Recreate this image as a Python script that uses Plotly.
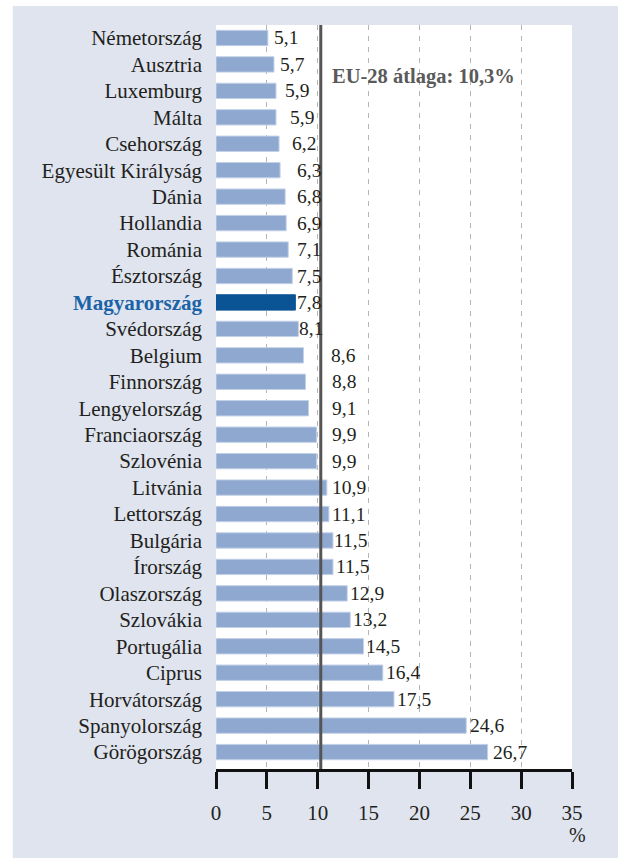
import plotly.graph_objects as go

# Data
countries = ["Németország", "Ausztria", "Luxemburg", "Málta", "Csehország",
             "Egyesült Királyság", "Dánia", "Hollandia", "Románia", "Észtország",
             "Magyarország", "Svédország", "Belgium", "Finnország", "Lengyelország",
             "Franciaország", "Szlovénia", "Litvánia", "Lettország", "Bulgária",
             "Írország", "Olaszország", "Szlovákia", "Portugália", "Ciprus",
             "Horvátország", "Spanyolország", "Görögország"]
values = [5.1, 5.7, 5.9, 5.9, 6.2, 6.3, 6.8, 6.9, 7.1, 7.5, 7.8, 8.1, 8.6, 8.8,
          9.1, 9.9, 9.9, 10.9, 11.1, 11.5, 11.5, 12.9, 13.2, 14.5, 16.4, 17.5,
          24.6, 26.7]
eu_average = 10.3
highlight = "Magyarország"
x_ticks = [0, 5, 10, 15, 20, 25, 30, 35]
grid_ticks = [5, 10, 15, 20, 25, 30]

# Styling
FONT = "Liberation Serif"
BAR = "#8ea8cf"
BAR_EDGE = "#c3d1e8"
HL_BAR = "#0a5394"
HL_TEXT = "#1b63a6"
BG = "#dfe4ef"
TEXT = "#231f20"
# pixel nudges for the value labels (rows near the average line are moved aside)
label_nudge = [4, 4, 7, 12, 11, 15, 10, 9, 7, 3, 0, -1, 26, 24, 21, 13, 13, 3, 1,
               -1, 1, 1, 1, 1, 1, 1, 2, 3]

idx = list(range(len(countries)))
colors = [HL_BAR if c == highlight else BAR for c in countries]
edges = [HL_BAR if c == highlight else BAR_EDGE for c in countries]
ticktext = [f"<b><span style='color:{HL_TEXT}'>{c}</span></b>" if c == highlight else c
            for c in countries]

fig = go.Figure()
fig.add_trace(go.Bar(
    x=values, y=idx, orientation="h", width=0.58,
    marker=dict(color=colors, line=dict(color=edges, width=1)),
    hoverinfo="skip", showlegend=False,
))
# invisible trace to carry the dashed grid axis
fig.add_trace(go.Scatter(x=[0, 35], y=[0, 0], xaxis="x2", mode="markers",
                         marker=dict(opacity=0), hoverinfo="skip", showlegend=False))

annotations = []
for i, (v, n) in enumerate(zip(values, label_nudge)):
    annotations.append(dict(x=v, y=i, xref="x", yref="y", text=f"{v:.1f}".replace(".", ","),
                            showarrow=False, xanchor="left", yanchor="middle", xshift=n,
                            font=dict(family=FONT, size=19.5, color=TEXT)))
annotations.append(dict(x=eu_average, y=1.47, xref="x", yref="y",
                        text=f"<b>EU-28 átlaga: {str(eu_average).replace('.', ',')}%</b>",
                        showarrow=False, xanchor="left", yanchor="middle", xshift=9,
                        font=dict(family=FONT, size=20.5, color="#5a5a5a")))
annotations.append(dict(x=1.015, y=-0.089, xref="paper", yref="paper", text="%",
                        showarrow=False, xanchor="center", yanchor="middle",
                        font=dict(family=FONT, size=20, color=TEXT)))

shapes = [
    # lavender panel
    dict(type="rect", xref="paper", yref="paper", x0=-0.571, x1=1.2, y0=-0.1196, y1=1.0255,
         fillcolor=BG, line=dict(width=0), layer="below"),
    # white plotting area
    dict(type="rect", xref="paper", yref="paper", x0=0, x1=1, y0=0, y1=1.0,
         fillcolor="white", line=dict(width=0), layer="below"),
    # EU average line
    dict(type="line", xref="x", yref="paper", x0=eu_average, x1=eu_average, y0=0, y1=1.0,
         line=dict(color="#555555", width=3)),
]

fig.update_layout(
    width=618, height=862,
    margin=dict(l=216, r=46, t=25, b=93),
    paper_bgcolor="white", plot_bgcolor="rgba(0,0,0,0)",
    bargap=0.4,
    font=dict(family=FONT, size=19, color=TEXT),
    xaxis=dict(range=[0, 35], tickvals=x_ticks, ticktext=[str(t) for t in x_ticks],
               showgrid=False, zeroline=False, showline=True, linecolor="#111111",
               linewidth=3, ticks="outside", ticklen=17, tickwidth=3, tickcolor="#111111",
               ticklabelstandoff=6, tickfont=dict(family=FONT, size=21, color=TEXT),
               fixedrange=True),
    xaxis2=dict(range=[0, 35], overlaying="x", side="top", tickvals=grid_ticks,
                showticklabels=False, ticks="", showgrid=True, gridcolor="#b5b5b5",
                gridwidth=1, griddash="5px,6px", zeroline=False, showline=False,
                layer="below traces", fixedrange=True),
    yaxis=dict(range=[27.64, -0.49], tickvals=idx, ticktext=ticktext, showgrid=False,
               zeroline=False, showline=False, ticks="", ticklabelstandoff=13,
               tickfont=dict(family=FONT, size=21, color=TEXT), fixedrange=True),
    shapes=shapes,
    annotations=annotations,
)

fig.write_html("out.html")
